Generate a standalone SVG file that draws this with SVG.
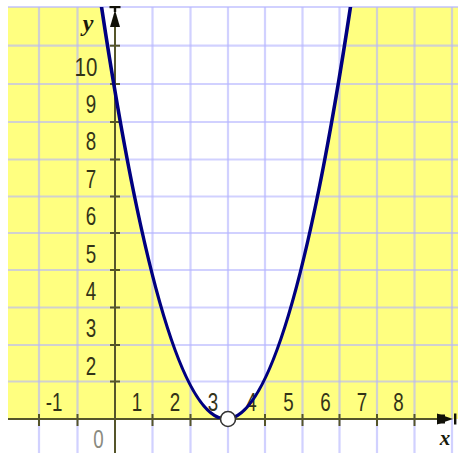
<svg xmlns="http://www.w3.org/2000/svg" width="458" height="453" viewBox="0 0 458 453">
  <style>
    .grid line { stroke: #b4b4ff; stroke-opacity: 0.62; stroke-width: 2.2; }
    .axis { stroke: #55552a; stroke-width: 2; fill: none; }
    .tick { stroke: #55552a; stroke-width: 2; }
    .num { font-family: "Liberation Sans", Arial, sans-serif; font-size: 25px; fill: #333318; text-anchor: middle; }
    .var { font-family: "Liberation Serif", "Times New Roman", serif; font-style: italic; font-weight: bold; fill: #1a1a0a; text-anchor: middle; }
    .curve { stroke: #000080; stroke-width: 3.6; fill: none; stroke-linecap: round; }
  </style>
  <defs>
    <clipPath id="plot">
      <rect x="8" y="7" width="450" height="412"/>
    </clipPath>
  </defs>
  <rect x="0" y="0" width="458" height="453" fill="#ffffff"/>
  <g id="shading" clip-path="url(#plot)">
    <rect x="8" y="7" width="450" height="412" fill="#ffff80"/>
    <path d="M99,-10 Q226,848 353,-10 Z" fill="#ffffff"/>
  </g>
  <g id="grid" class="grid">
    <line x1="39" y1="7" x2="39" y2="453"/>
    <line x1="77.5" y1="7" x2="77.5" y2="453"/>
    <line x1="152.5" y1="7" x2="152.5" y2="453"/>
    <line x1="190.5" y1="7" x2="190.5" y2="453"/>
    <line x1="228" y1="7" x2="228" y2="453"/>
    <line x1="265" y1="7" x2="265" y2="453"/>
    <line x1="302.5" y1="7" x2="302.5" y2="453"/>
    <line x1="339.5" y1="7" x2="339.5" y2="453"/>
    <line x1="377" y1="7" x2="377" y2="453"/>
    <line x1="414.5" y1="7" x2="414.5" y2="453"/>
    <line x1="452" y1="7" x2="452" y2="453"/>
    <line x1="8" y1="7" x2="458" y2="7"/>
    <line x1="8" y1="45.7" x2="458" y2="45.7"/>
    <line x1="8" y1="84" x2="458" y2="84"/>
    <line x1="8" y1="122" x2="458" y2="122"/>
    <line x1="8" y1="159.5" x2="458" y2="159.5"/>
    <line x1="8" y1="196.5" x2="458" y2="196.5"/>
    <line x1="8" y1="233" x2="458" y2="233"/>
    <line x1="8" y1="270" x2="458" y2="270"/>
    <line x1="8" y1="307.5" x2="458" y2="307.5"/>
    <line x1="8" y1="345" x2="458" y2="345"/>
    <line x1="8" y1="381.5" x2="458" y2="381.5"/>
  </g>
  <g id="axes">
    <line class="axis" x1="8" y1="419" x2="440" y2="419"/>
    <line class="axis" x1="115" y1="24" x2="115" y2="453"/>
    <g id="ticks">
      <line class="tick" x1="39" y1="414" x2="39" y2="426"/>
      <line class="tick" x1="77.5" y1="414" x2="77.5" y2="426"/>
      <line class="tick" x1="152.5" y1="414" x2="152.5" y2="426"/>
      <line class="tick" x1="190.5" y1="414" x2="190.5" y2="426"/>
      <line class="tick" x1="265" y1="414" x2="265" y2="426"/>
      <line class="tick" x1="302.5" y1="414" x2="302.5" y2="426"/>
      <line class="tick" x1="339.5" y1="414" x2="339.5" y2="426"/>
      <line class="tick" x1="377" y1="414" x2="377" y2="426"/>
      <line class="tick" x1="414.5" y1="414" x2="414.5" y2="426"/>
      <line class="tick" x1="110" y1="45.7" x2="120" y2="45.7"/>
      <line class="tick" x1="110" y1="84" x2="120" y2="84"/>
      <line class="tick" x1="110" y1="122" x2="120" y2="122"/>
      <line class="tick" x1="110" y1="159.5" x2="120" y2="159.5"/>
      <line class="tick" x1="110" y1="196.5" x2="120" y2="196.5"/>
      <line class="tick" x1="110" y1="233" x2="120" y2="233"/>
      <line class="tick" x1="110" y1="270" x2="120" y2="270"/>
      <line class="tick" x1="110" y1="307.5" x2="120" y2="307.5"/>
      <line class="tick" x1="110" y1="345" x2="120" y2="345"/>
      <line class="tick" x1="110" y1="381.5" x2="120" y2="381.5"/>
    </g>
    <g id="y-arrow" fill="#111108">
      <rect x="109.5" y="6" width="11" height="2.2"/>
      <path d="M115,10 L120,27 L110,27 Z"/>
      <rect x="113.8" y="8" width="2.4" height="4"/>
    </g>
    <g id="x-arrow" fill="#111108">
      <path d="M437,413.5 L453,419 L437,424.5 Z"/>
      <rect x="437" y="414.5" width="8" height="9"/>
      <rect x="454" y="413.5" width="2.4" height="11"/>
    </g>
  </g>
  <g id="labels">
    <text class="num" transform="translate(86,76) scale(0.82,1)">10</text>
    <text class="num" transform="translate(91,113) scale(0.75,1)">9</text>
    <text class="num" transform="translate(91,150) scale(0.75,1)">8</text>
    <text class="num" transform="translate(91,187.5) scale(0.75,1)">7</text>
    <text class="num" transform="translate(91,225) scale(0.75,1)">6</text>
    <text class="num" transform="translate(91,262.5) scale(0.75,1)">5</text>
    <text class="num" transform="translate(91,299.5) scale(0.75,1)">4</text>
    <text class="num" transform="translate(91,337) scale(0.75,1)">3</text>
    <text class="num" transform="translate(91,374.5) scale(0.75,1)">2</text>
    <text class="num" transform="translate(54,411) scale(0.75,1)">-1</text>
    <text class="num" transform="translate(137,411) scale(0.75,1)">1</text>
    <text class="num" transform="translate(175,411) scale(0.75,1)">2</text>
    <text class="num" transform="translate(213,411) scale(0.75,1)">3</text>
    <text class="num" transform="translate(251.5,411) scale(0.75,1)">4</text>
    <text class="num" transform="translate(288.5,411) scale(0.75,1)">5</text>
    <text class="num" transform="translate(325.5,411) scale(0.75,1)">6</text>
    <text class="num" transform="translate(362,411) scale(0.75,1)">7</text>
    <text class="num" transform="translate(398.5,411) scale(0.75,1)">8</text>
    <text class="num" transform="translate(98.5,448) scale(0.75,1)" style="fill:#8a8a80">0</text>
    <text class="var" x="88" y="31" font-size="24">y</text>
    <text class="var" x="445" y="445" font-size="21">x</text>
  </g>
  <g id="graph">
    <path class="curve" clip-path="url(#plot)" d="M99,-10 Q226,848 353,-10"/>
    <circle cx="228" cy="419" r="7.5" fill="#ffffff" stroke="#333333" stroke-width="1.6"/>
  </g>
</svg>
